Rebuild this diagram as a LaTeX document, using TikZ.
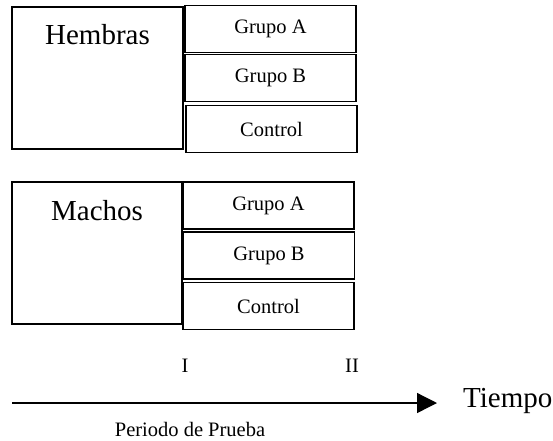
\documentclass[tikz,border=0pt]{standalone}
\usepackage{fontspec}
\setmainfont{Liberation Serif}
\usetikzlibrary{arrows.meta}
\begin{document}
\begin{tikzpicture}[x=1pt,y=-1pt,
  bigbox/.style={draw=black,line width=1.8pt,rectangle,inner sep=0pt},
  grpbox/.style={draw=black,line width=1.8pt,rectangle,inner sep=0pt,minimum width=171pt,minimum height=47pt,font=\fontsize{20.5}{24}\selectfont},
  bigtxt/.style={font=\fontsize{29}{34}\selectfont,inner sep=0pt,anchor=base},
  smalltxt/.style={font=\fontsize{20.5}{24}\selectfont,inner sep=0pt}]
\useasboundingbox (0,0) rectangle (553,440);
% Hembras
\node[bigbox,minimum width=171pt,minimum height=142pt] (hem) at (97.5,78) {};
\node[bigtxt] (hemt) at (97.5,44) {Hembras};
\node[grpbox] (ha) at (270.5,29) {Grupo A};
\node[grpbox] (hb) at (270.5,78) {Grupo B};
\node[grpbox] (hc) at (271.5,129) {Control};
% Machos
\node[bigbox,minimum width=170pt,minimum height=142pt] (mac) at (97,253) {};
\node[bigtxt] (mact) at (97,220) {Machos};
\node[grpbox] (ma) at (268.5,205.5) {Grupo A};
\node[grpbox] (mb) at (269,255.5) {Grupo B};
\node[grpbox] (mc) at (268.5,306) {Control};
% timeline
\coordinate (t0) at (12,403);
\coordinate (t1) at (437,403);
\draw[line width=1.3pt,-{Triangle[length=20pt,width=20pt]}] (t0) -- (t1);
\node[bigtxt,anchor=base west] (tie) at (463,407) {Tiempo};
\node[smalltxt] (i1) at (185,366) {I};
\node[smalltxt] (i2) at (352,366) {II};
\node[smalltxt] (per) at (190,429) {Periodo de Prueba};
\end{tikzpicture}
\end{document}
